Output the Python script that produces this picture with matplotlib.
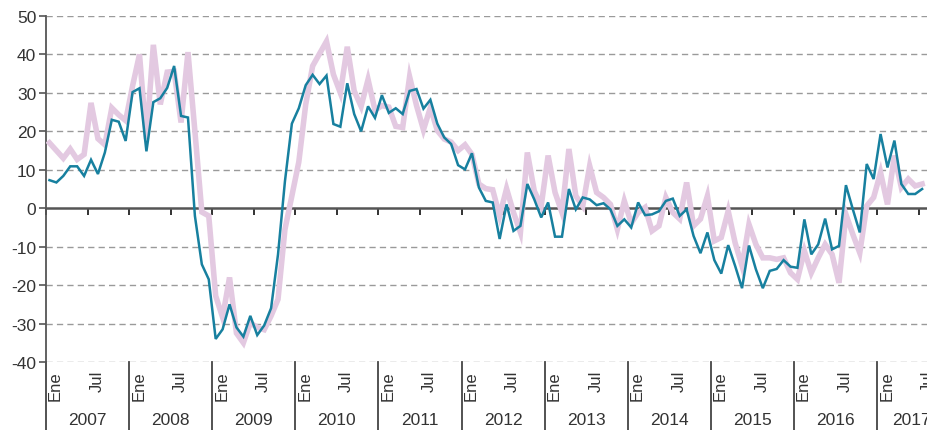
import numpy as np
import pandas as pd
import matplotlib
matplotlib.use("Agg")
import matplotlib.pyplot as plt

plt.rcParams['font.family'] = ['Liberation Sans', 'DejaVu Sans']
plt.rcParams['axes.unicode_minus'] = False

# ---- data (monthly, Jan 2007 - Jul 2017) ----
teal = [7.3, 6.7, 8.4, 10.9, 10.9, 8.4, 12.6, 8.9, 14.5, 23.0, 22.5, 17.5,
        30.2, 31.2, 14.8, 27.6, 28.6, 31.3, 37.0, 24.0, 23.6, -2.0, -14.6, -18.5,
        -34.0, -31.5, -25.0, -31.0, -33.4, -28.0, -33.0, -30.5, -26.0, -12.0, 7.0, 22.0,
        26.0, 32.0, 34.7, 32.3, 34.5, 21.9, 21.2, 32.5, 24.5, 20.0, 26.5, 23.5,
        29.4, 24.8, 26.0, 24.5, 30.5, 31.0, 25.9, 28.2, 22.0, 18.4, 16.7, 11.2,
        10.1, 14.3, 5.4, 1.9, 1.5, -8.0, 1.0, -5.9, -4.6, 6.3, 2.3, -2.4,
        1.5, -7.4, -7.4, 5.0, -0.3, 2.8, 2.3, 0.8, 1.3, -0.3, -4.6, -2.9,
        -5.0, 1.5, -1.8, -1.6, -0.8, 1.9, 2.5, -2.0, -0.3, -7.2, -11.7, -6.3,
        -13.5, -17.0, -9.6, -15.0, -20.8, -9.7, -15.9, -20.8, -16.3, -15.8, -13.5, -15.2,
        -15.5, -2.9, -12.0, -9.4, -2.7, -10.7, -9.8, 6.0, -0.3, -6.3, 11.5, 7.6,
        19.3, 10.6, 17.6, 6.3, 3.7, 3.7, 5.0]

pink = [17.0, 15.0, 13.0, 15.4, 12.7, 14.0, 27.4, 18.1, 16.5, 26.1, 24.3, 22.8,
        31.8, 40.0, 18.0, 42.5, 27.0, 35.4, 35.6, 22.3, 40.6, 20.0, -1.0, -2.0,
        -22.8, -28.4, -18.0, -32.5, -35.0, -29.8, -31.0, -31.6, -28.0, -23.7, -5.5, 3.2,
        12.0, 27.0, 37.0, 40.2, 43.4, 34.8, 30.0, 42.0, 30.5, 26.5, 33.5, 25.5,
        26.7, 26.3, 21.3, 21.0, 34.2, 26.7, 20.4, 26.2, 20.2, 18.0, 17.2, 15.0,
        16.5, 14.0, 6.3, 5.1, 4.8, -2.0, 5.1, -1.1, -6.3, 14.5, 4.5, 0.6,
        13.7, 4.1, -1.1, 15.4, 3.2, 0.6, 11.0, 4.1, 2.8, 1.0, -5.5, 1.9,
        -3.9, -1.1, 0.2, -5.9, -4.6, 2.8, -1.1, -2.8, 6.7, -4.6, -2.8, 3.2,
        -8.5, -7.6, -0.7, -9.0, -15.0, -4.2, -9.4, -12.9, -12.9, -13.3, -12.9, -16.8,
        -18.5, -11.1, -16.8, -12.9, -9.4, -12.0, -19.4, -1.6, -6.8, -11.6, 0.6, 2.8,
        9.3, 1.0, 13.7, 5.4, 7.6, 5.8, 6.3]

dates = pd.date_range('2007-01-01', periods=len(teal), freq='MS')
years = [str(y) for y in range(2007, 2018)]
month_labels = ['Ene', 'Jul']
yticks = list(range(-40, 51, 10))

TEAL = '#17809f'
PINK = '#e3c9e1'
GRID = '#9a9a9a'
AXC = '#555555'
TXT = '#333333'

# month index (mid-month positions)
start = dates[0]
mi = np.array([(d.year - start.year) * 12 + (d.month - start.month) for d in dates]) + 0.5

fig = plt.figure(figsize=(9.28, 4.31), dpi=100)
ax = fig.add_axes([46 / 928, (431 - 363) / 431, 882 / 928, 346 / 431])

ax.set_ylim(-40, 50)
ax.set_xlim(0, 127.35)

for y in yticks:
    if y == 0:
        continue
    ax.axhline(y, color=GRID, lw=1.0, linestyle=(0, (4.5, 3.0)), zorder=1)

ax.plot(mi, pink, color=PINK, lw=4.0, solid_joinstyle='miter', zorder=3)
ax.plot(mi, teal, color=TEAL, lw=1.8, solid_joinstyle='miter', zorder=4)

for s in ['top', 'right']:
    ax.spines[s].set_visible(False)
ax.spines['left'].set_color(AXC)
ax.spines['left'].set_linewidth(1.3)
ax.spines['bottom'].set_position(('data', 0))
ax.spines['bottom'].set_color(AXC)
ax.spines['bottom'].set_linewidth(1.8)
ax.spines['bottom'].set_zorder(2)

ax.set_yticks(yticks)
ax.set_yticklabels([str(v) for v in yticks])
ax.tick_params(axis='y', length=5, width=1.2, color=AXC, labelsize=12.5,
               labelcolor=TXT, pad=2)
ax.set_xticks(np.arange(0, 127, 6))
ax.tick_params(axis='x', length=5, width=1.3, color='#222222', direction='out',
               labelbottom=False)

trans = ax.get_xaxis_transform()
bottom_frac = -(431 - 363) / 346
for k, yr in enumerate(years):
    x0 = 12 * k
    ax.plot([x0, x0], [0, bottom_frac - 0.01], transform=trans, color='#444444',
            lw=1.3, clip_on=False, zorder=2)
    for j, ml in enumerate(month_labels):
        xm = x0 + 6 * j + 0.3
        ax.text(xm, -8 / 346, ml, transform=trans, rotation=90, ha='left', va='top',
                fontsize=12, color=TXT, clip_on=False)
    xc = x0 + 6 if yr != '2017' else 124.9
    ax.text(xc, -(421 - 363) / 346, yr, transform=trans, ha='center', va='center',
            fontsize=12.5, color=TXT, clip_on=False)

fig.savefig('out.png', dpi=100)
